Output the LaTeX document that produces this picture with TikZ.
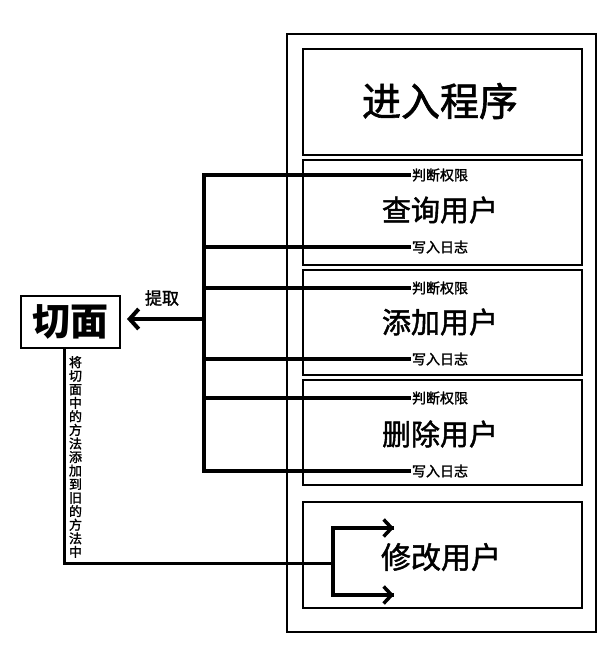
\documentclass[tikz,border=0pt]{standalone}
\usepackage{fontspec}
\newfontfamily\cjk{Noto Sans CJK SC}
\newfontfamily\cjkm{Noto Sans CJK SC}[FakeBold=1.6]
\usetikzlibrary{arrows.meta}
\tikzset{
  box/.style={draw, line width=2pt, inner sep=0pt, minimum width=279pt},
  title/.style={font=\cjkm\fontsize{29}{31}\selectfont, inner sep=0pt},
  small/.style={font=\cjkm\fontsize{14}{16}\selectfont, inner sep=1pt},
  bus/.style={line width=4pt, line join=miter},
  fork/.style={line width=3.5pt},
}
\begin{document}
\begin{tikzpicture}[x=1pt,y=-1pt]
\useasboundingbox (0,0) rectangle (612,653);
% outer frame
\node[draw, line width=2.5pt, inner sep=0pt, minimum width=309pt, minimum height=598pt] (outer) at (441.5,333) {};
% boxes
\node[box, minimum height=106pt] (b0) at (442.5,101.5) {};
\node[box, minimum height=105pt] (b1) at (442.5,212.5) {};
\node[box, minimum height=105pt] (b2) at (442.5,322.5) {};
\node[box, minimum height=105pt] (b3) at (442.5,432.5) {};
\node[box, minimum height=106pt] (b4) at (442.5,555) {};
% titles
\node[title, font=\cjkm\fontsize{39}{41}\selectfont] (t0) at (440,101) {进入程序};
\node[title] (t1) at (440,210) {查询用户};
\node[title] (t2) at (440,322) {添加用户};
\node[title] (t3) at (440,434) {删除用户};
\node[title, font=\cjkm\fontsize{30}{32}\selectfont] (t4) at (441,557) {修改用户};
% small labels
\node[small] (j1) at (440,175) {判断权限};
\node[small] (w1) at (440,247) {写入日志};
\node[small] (j2) at (440,288) {判断权限};
\node[small] (w2) at (440,359) {写入日志};
\node[small] (j3) at (440,398) {判断权限};
\node[small] (w3) at (440,471) {写入日志};
% aspect box
\node[draw, line width=2pt, inner sep=0pt, minimum width=99pt, minimum height=52pt,
      font=\cjk\bfseries\fontsize{38}{40}\selectfont] (qm) at (70.5,322) {切面};
\node[font=\cjkm\fontsize{17}{19}\selectfont, inner sep=0pt] (tq) at (162,298) {提取};
% bus
\coordinate (bus) at (204,319);
\draw[bus] (j1.west) -- (j1.west -| bus) -- (w3.west -| bus) -- (w3.west);
\draw[bus] (w1.west) -- (w1.west -| bus);
\draw[bus] (j2.west) -- (j2.west -| bus);
\draw[bus] (w2.west) -- (w2.west -| bus);
\draw[bus] (j3.west) -- (j3.west -| bus);
\draw[bus, -{Straight Barb[length=9pt,width=20pt]}, shorten >=6pt] (bus) -- (bus -| qm.east);
% weave line
\coordinate (down) at (64,348);
\coordinate (corner) at (64,563);
\coordinate (fk) at (333,563);
\coordinate (fa) at (333,528);
\coordinate (fb) at (333,595);
\coordinate (ea) at (394,528);
\coordinate (eb) at (394,595);
\draw[line width=3pt] (down) -- (corner) -- (fk);
\draw[fork, line join=miter] (ea) -- (fa) -- (fb) -- (eb);
\draw[fork, -{Straight Barb[length=8pt,width=17pt]}] (fa) -- (ea);
\draw[fork, -{Straight Barb[length=8pt,width=17pt]}] (fb) -- (eb);
\node[font=\cjkm\fontsize{13}{13.55}\selectfont, align=center, inner sep=0pt, anchor=north] (vt) at (75.5,356)
  {将\\切\\面\\中\\的\\方\\法\\添\\加\\到\\旧\\的\\方\\法\\中};
\end{tikzpicture}
\end{document}
